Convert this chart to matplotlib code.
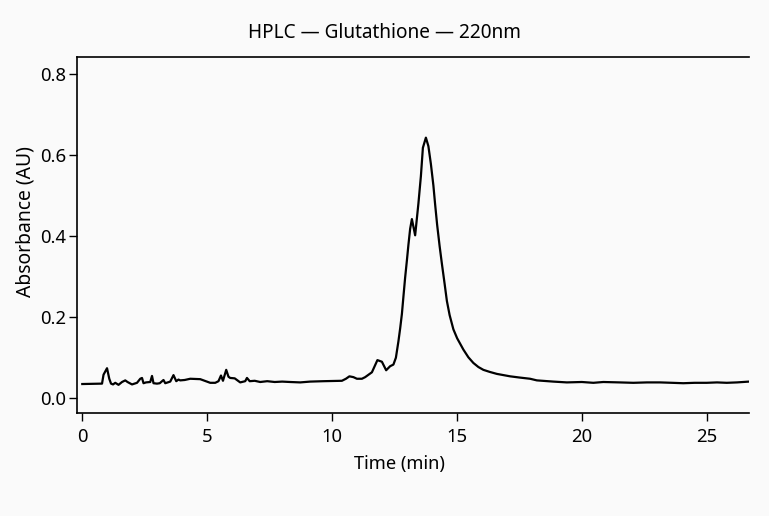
import matplotlib
matplotlib.use('Agg')
import matplotlib.pyplot as plt

plt.rcParams['font.family'] = ['Noto Sans', 'DejaVu Sans']

# chromatogram (time in min, absorbance in AU)
time_min = [0, 0.79, 0.85, 0.99, 1.08, 1.15, 1.23, 1.32, 1.45, 1.59, 1.72, 1.81, 1.99,
            2.19, 2.32, 2.39, 2.45, 2.55, 2.72, 2.79, 2.85, 2.99, 3.1, 3.25, 3.32, 3.52,
            3.65, 3.76, 3.85, 3.92, 4.1, 4.32, 4.72, 5.12, 5.32, 5.45, 5.55, 5.63, 5.76,
            5.85, 5.92, 6.1, 6.32, 6.52, 6.59, 6.7, 6.9, 7.12, 7.4, 7.7, 8.0, 8.32, 8.72,
            9.12, 9.65, 10.39, 10.55, 10.69, 10.85, 10.99, 11.19, 11.32, 11.59, 11.81,
            11.99, 12.16, 12.32, 12.45, 12.55, 12.65, 12.72, 12.79, 12.85, 12.92, 12.99,
            13.05, 13.12, 13.19, 13.32, 13.45, 13.55, 13.63, 13.75, 13.85, 13.95, 14.05,
            14.12, 14.2, 14.3, 14.39, 14.5, 14.59, 14.7, 14.85, 15.0, 15.25, 15.45, 15.65,
            15.85, 16.05, 16.3, 16.59, 17.12, 17.5, 17.92, 18.19, 18.85, 19.39, 19.99,
            20.45, 20.85, 21.5, 22.05, 22.6, 23.12, 23.6, 24.05, 24.5, 24.99, 25.4, 25.79,
            26.2, 26.68]
absorbance = [0.035, 0.036, 0.058, 0.074, 0.048, 0.036, 0.034, 0.038, 0.033, 0.040, 0.044,
              0.040, 0.034, 0.038, 0.048, 0.050, 0.037, 0.039, 0.040, 0.055, 0.037, 0.036,
              0.037, 0.045, 0.037, 0.041, 0.057, 0.042, 0.046, 0.044, 0.045, 0.048, 0.047,
              0.038, 0.038, 0.042, 0.056, 0.043, 0.070, 0.053, 0.050, 0.049, 0.039, 0.042,
              0.050, 0.042, 0.043, 0.040, 0.042, 0.040, 0.041, 0.040, 0.039, 0.041, 0.042,
              0.043, 0.048, 0.054, 0.052, 0.048, 0.048, 0.052, 0.064, 0.094, 0.090, 0.069,
              0.079, 0.083, 0.100, 0.140, 0.172, 0.208, 0.250, 0.298, 0.340, 0.378, 0.418,
              0.442, 0.402, 0.480, 0.548, 0.618, 0.643, 0.622, 0.578, 0.525, 0.478, 0.428,
              0.375, 0.332, 0.282, 0.240, 0.205, 0.170, 0.148, 0.120, 0.101, 0.087, 0.077,
              0.070, 0.065, 0.060, 0.054, 0.051, 0.048, 0.044, 0.041, 0.039, 0.040, 0.038,
              0.040, 0.039, 0.038, 0.039, 0.039, 0.038, 0.037, 0.038, 0.038, 0.039, 0.038,
              0.039, 0.041]

x_ticks = [0, 5, 10, 15, 20, 25]
y_ticks = [0.0, 0.2, 0.4, 0.6, 0.8]

bg = '#fafafa'
fig = plt.figure(figsize=(7.69, 5.16), dpi=100, facecolor=bg)
ax = fig.add_axes([0.1005, 0.200, 0.8735, 0.690], facecolor=bg)

ax.plot(time_min, absorbance, color='black', linewidth=1.6, solid_joinstyle='round')

ax.set_xlim(-0.2, 26.68)
ax.set_ylim(-0.036, 0.8426)
ax.set_xticks(x_ticks)
ax.set_yticks(y_ticks)
ax.set_yticklabels(['%.1f' % v for v in y_ticks])

# open frame: left, bottom and top lines only
ax.spines['right'].set_visible(False)
for s in ['left', 'bottom', 'top']:
    ax.spines[s].set_linewidth(1.2)
ax.tick_params(axis='both', direction='out', length=6, width=1, labelsize=13.3)
ax.tick_params(axis='x', pad=5)
ax.tick_params(axis='y', pad=2)

fig.text(0.5, 0.936, 'HPLC — Glutathione — 220nm', ha='center', va='center', fontsize=13.7)
fig.text(0.519, 0.100, 'Time (min)', ha='center', va='center', fontsize=13.2)
fig.text(0.033, 0.570, 'Absorbance (AU)', ha='center', va='center', rotation=90, fontsize=13.9)

fig.savefig('out.png', dpi=100, facecolor=bg)
